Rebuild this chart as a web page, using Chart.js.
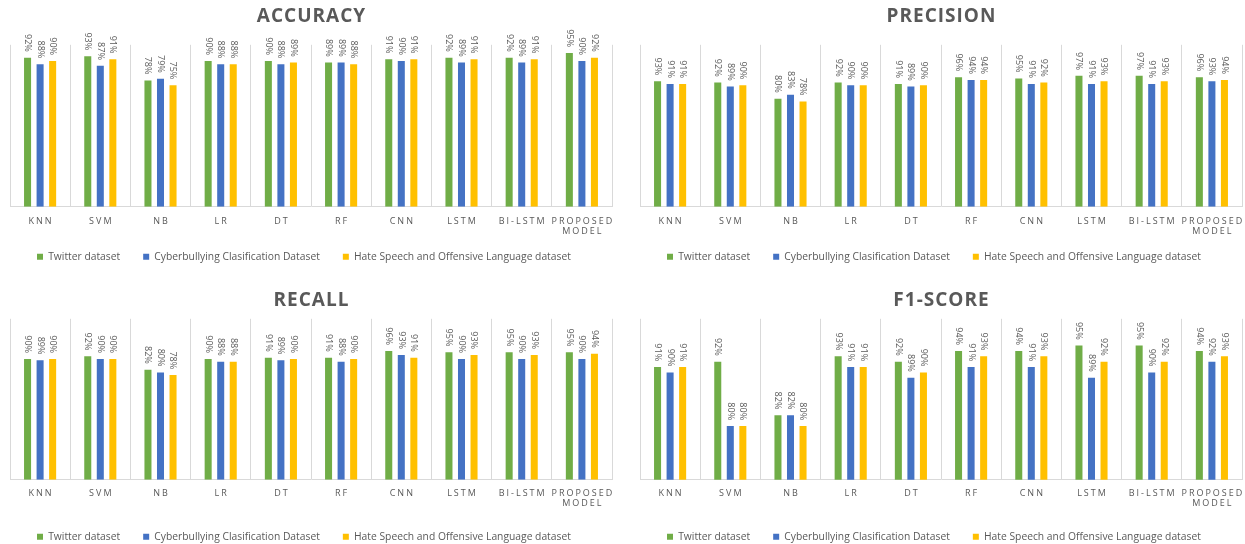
<!DOCTYPE html>
<html>
<head>
<meta charset="utf-8">
<script src="https://cdn.jsdelivr.net/npm/chart.js@4.4.1/dist/chart.umd.min.js"></script>
<style>
  html, body { margin: 0; padding: 0; background: #ffffff; overflow: hidden; width: 1245px; height: 544px; }
  .panel { position: absolute; }
</style>
</head>
<body>
<div class="panel" id="p1" style="left:0;top:0;width:622px;height:272px"><canvas id="cAcc"></canvas></div>
<div class="panel" id="p2" style="left:630px;top:0;width:615px;height:272px"><canvas id="cPre"></canvas></div>
<div class="panel" id="p3" style="left:0;top:272px;width:622px;height:280px"><canvas id="cRec"></canvas></div>
<div class="panel" id="p4" style="left:630px;top:272px;width:615px;height:280px"><canvas id="cF1"></canvas></div>
<script>
// Models compared in every panel
const categories = ['KNN', 'SVM', 'NB', 'LR', 'DT', 'RF', 'CNN', 'LSTM', 'BI-LSTM', 'PROPOSED MODEL'];
const seriesNames = ['Twitter dataset', 'Cyberbullying Clasification Dataset', 'Hate Speech and Offensive Language dataset'];
const seriesColors = ['#70AD47', '#4472C4', '#FFC000'];

// Accuracy (%)
const accTwitter = [92, 93, 78, 90, 90, 89, 91, 92, 92, 95];
const accCyber   = [88, 87, 79, 88, 88, 89, 90, 89, 89, 90];
const accHate    = [90, 91, 75, 88, 89, 88, 91, 91, 91, 92];

// Precision (%)
const preTwitter = [93, 92, 80, 92, 91, 96, 95, 97, 97, 96];
const preCyber   = [91, 89, 83, 90, 89, 94, 91, 91, 91, 93];
const preHate    = [91, 90, 78, 90, 90, 94, 92, 93, 93, 94];

// Recall (%)
const recTwitter = [90, 92, 82, 90, 91, 91, 96, 95, 95, 95];
const recCyber   = [89, 90, 80, 88, 89, 88, 93, 90, 90, 90];
const recHate    = [90, 90, 78, 88, 90, 90, 91, 93, 93, 94];

// F1-score (%)
const f1Twitter = [91, 92, 82, 93, 92, 94, 94, 95, 95, 94];
const f1Cyber   = [90, 80, 82, 91, 89, 91, 91, 89, 90, 92];
const f1Hate    = [91, 80, 80, 91, 90, 93, 93, 92, 92, 93];

const FONT = "'Open Sans', 'DejaVu Sans', sans-serif";
const TEXT_GRAY = '#595959';

// Excel-like letter spacing for category labels and title; legend nudged right a little
const spacedText = {
  id: 'spacedText',
  beforeDraw(chart) {
    const sx = chart.scales.x;
    if (sx && !sx.__spaced) {
      const orig = sx.drawLabels;
      sx._computeLabelArea = () => null; // let two-line labels run past the axis box
      sx.drawLabels = function (area) {
        const c = this.ctx;
        c.save();
        c.letterSpacing = '2px';
        c.translate(1, 0);
        orig.call(this, area);
        c.restore();
      };
      sx.__spaced = true;
    }
    const tb = chart.titleBlock;
    if (tb && !tb.__spaced) {
      const origT = tb.draw;
      tb.draw = function () {
        const c = this.ctx;
        c.save();
        c.letterSpacing = '1px';
        c.translate(0.5, 0);
        origT.call(this);
        c.restore();
      };
      tb.__spaced = true;
    }
    const lg = chart.legend;
    if (lg && !lg.__shifted) {
      const origL = lg.draw;
      lg.draw = function () {
        const c = this.ctx;
        c.save();
        c.translate(4, 0);
        origL.call(this);
        c.restore();
      };
      lg.__shifted = true;
    }
  }
};

// Vertical value labels above each bar
const barValueLabels = {
  id: 'barValueLabels',
  afterDatasetsDraw(chart) {
    const ctx = chart.ctx;
    ctx.save();
    ctx.font = "9px " + FONT;
    ctx.fillStyle = TEXT_GRAY;
    ctx.textAlign = 'right';
    ctx.textBaseline = 'middle';
    chart.data.datasets.forEach((ds, di) => {
      const meta = chart.getDatasetMeta(di);
      meta.data.forEach((bar, i) => {
        ctx.save();
        ctx.translate(bar.x, bar.y - 6);
        ctx.rotate(Math.PI / 2);
        ctx.fillText(ds.data[i] + '%', 0, 0);
        ctx.restore();
      });
    });
    ctx.restore();
  }
};

function makeChart(canvasId, title, series, yMin, yMax, geom) {
  const datasets = series.map((values, k) => ({
    label: seriesNames[k],
    data: values,
    backgroundColor: seriesColors[k],
    borderWidth: 0,
    categoryPercentage: 0.625,
    barPercentage: 0.56
  }));
  return new Chart(document.getElementById(canvasId), {
    type: 'bar',
    data: { labels: categories, datasets },
    plugins: [spacedText, barValueLabels],
    options: {
      responsive: true,
      maintainAspectRatio: false,
      animation: false,
      events: [],
      layout: { padding: { left: 10, right: geom.right, top: 0, bottom: 0 } },
      scales: {
        x: {
          grid: { display: true, color: '#d9d9d9', lineWidth: 1, offset: true, drawTicks: false },
          border: { display: true, color: '#d9d9d9', width: 1 },
          ticks: {
            font: { family: FONT, size: 9 },
            color: TEXT_GRAY,
            padding: geom.tickPad,
            maxRotation: 0,
            autoSkip: false,
            callback: (v, i) => categories[i].split(' ')
          },
          afterFit: (scale) => { scale.height = geom.axisH; }
        },
        y: {
          display: false,
          min: yMin,
          max: yMax
        }
      },
      plugins: {
        title: {
          display: true,
          text: title,
          color: TEXT_GRAY,
          font: { family: FONT, size: 19, weight: 'bold' },
          padding: { top: geom.titleTop, bottom: geom.titleBottom }
        },
        legend: {
          position: 'bottom',
          align: 'start',
          labels: {
            boxWidth: 6,
            boxHeight: 6,
            padding: 23,
            color: TEXT_GRAY,
            font: { family: FONT, size: 10.3 }
          }
        },
        tooltip: { enabled: false }
      }
    }
  });
}

const topGeom = { titleTop: 5, titleBottom: 17, axisH: 22, tickPad: 9 };
const bottomGeom = { titleTop: 17, titleBottom: 7, axisH: 29, tickPad: 8 };

makeChart('cAcc', 'ACCURACY', [accTwitter, accCyber, accHate], 0, 100, Object.assign({ right: 10 }, topGeom));
makeChart('cPre', 'PRECISION', [preTwitter, preCyber, preHate], 0, 120, Object.assign({ right: 3 }, topGeom));
makeChart('cRec', 'RECALL', [recTwitter, recCyber, recHate], 0, 120, Object.assign({ right: 10 }, bottomGeom));
makeChart('cF1', 'F1-SCORE', [f1Twitter, f1Cyber, f1Hate], 70, 100, Object.assign({ right: 3 }, bottomGeom));
</script>
</body>
</html>
